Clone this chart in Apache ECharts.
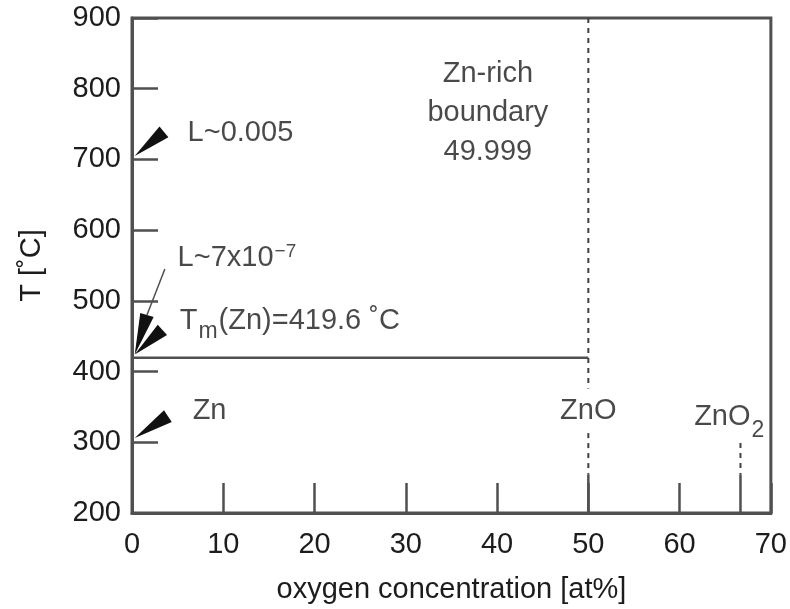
<!DOCTYPE html>
<html>
<head>
<meta charset="utf-8">
<title>Zn–O phase diagram</title>
<script src="https://cdn.jsdelivr.net/npm/echarts@6/dist/echarts.min.js"></script>
<style>
  html, body { margin: 0; padding: 0; background: #fff; }
  #chart { width: 790px; height: 609px; }
</style>
</head>
<body>
<div id="chart"></div>
<script>
// Axis ranges: oxygen concentration (at%) and temperature (°C)
const xMin = 0, xMax = 70, xStep = 10;
const tMin = 200, tMax = 900, tStep = 100;

// Melting isotherm of Zn, from pure Zn to the ZnO composition
const meltLine = [[0, 419.6], [50, 419.6]];

// ZnO line: dashed (broken around its label), solid near the axis
const znoDashTop = [[50, 900], [50, 376]];
const znoDashBottom = [[50, 313], [50, 254]];
const znoSolid = [[50, 200], [50, 254]];

// ZnO2 line
const zno2Dash = [[66.67, 299], [66.67, 254]];
const zno2Solid = [[66.67, 200], [66.67, 254]];

// Black wedge pointers: [tip x, tip T, tail x, tail T]
const wedges = [
  [0.3, 705, 3.5, 739],
  [0.3, 424, 1.64, 480],
  [0.3, 424, 3.33, 459],
  [0.3, 306, 3.93, 337]
];

// Leader from the L~7x10^-7 note to its wedge
const leader = [[3.6, 545], [1.64, 480]];

// Annotations: [x, T, text, alignment]
const notes = [
  [6.1, 737, '{a|L~0.005}', 'left'],
  [5.0, 560, '{a|L~7x10}{sup|−7}', 'left'],
  [5.23, 472, '{a|T}{sub|m}{a|(Zn)=419.6 ˚C}', 'left'],
  [6.65, 344, '{a|Zn}', 'left'],
  [39, 766, '{c|Zn-rich\nboundary\n49.999}', 'center'],
  [50, 344, '{a|ZnO}', 'center'],
  [61.6, 335, '{a|ZnO}{sub2|2}', 'left']
];

const FONT = "'Liberation Sans', Arial, Helvetica, sans-serif";
const TEXT = '#1c1c1c';
const LINE = '#505050';

const richStyles = {
  a:    { fontSize: 29, fontFamily: FONT, color: TEXT, lineHeight: 34 },
  c:    { fontSize: 29, fontFamily: FONT, color: TEXT, lineHeight: 39, align: 'center' },
  sup:  { fontSize: 19, fontFamily: FONT, color: TEXT, lineHeight: 19, verticalAlign: 'top', padding: [1, 0, 0, 1] },
  sub:  { fontSize: 23, fontFamily: FONT, color: TEXT, lineHeight: 23, verticalAlign: 'bottom', padding: [0, 1, -6, 1] },
  sub2: { fontSize: 23, fontFamily: FONT, color: TEXT, lineHeight: 23, verticalAlign: 'bottom', padding: [0, 0, -8, 1] }
};

function lineSeries(data, type, width) {
  return {
    type: 'line',
    data: data,
    showSymbol: false,
    symbol: 'none',
    silent: true,
    z: 3,
    lineStyle: { color: type === 'solid' ? LINE : '#404040', width: width, type: type === 'solid' ? 'solid' : [5, 5] }
  };
}

const chart = echarts.init(document.getElementById('chart'), null, { renderer: 'canvas' });

chart.setOption({
  animation: false,
  backgroundColor: '#fff',
  grid: {
    left: 132, right: 16, top: 18, bottom: 94,
    show: true, borderColor: LINE, borderWidth: 3, backgroundColor: 'transparent'
  },
  xAxis: {
    type: 'value',
    min: xMin, max: xMax, interval: xStep,
    name: 'oxygen concentration [at%]',
    nameLocation: 'middle',
    nameGap: 62,
    nameTextStyle: { fontSize: 29, fontFamily: FONT, color: TEXT },
    axisLine: { show: true, lineStyle: { color: LINE, width: 3 } },
    axisTick: { show: true, inside: true, length: 30, lineStyle: { color: LINE, width: 2.5 } },
    axisLabel: { fontSize: 29, fontFamily: FONT, color: TEXT, margin: 17, showMinLabel: true, showMaxLabel: true },
    splitLine: { show: false }
  },
  yAxis: {
    type: 'value',
    min: tMin, max: tMax, interval: tStep,
    name: 'T [˚C]',
    nameLocation: 'middle',
    nameGap: 86,
    nameRotate: 90,
    nameTextStyle: { fontSize: 29, fontFamily: FONT, color: TEXT },
    axisLine: { show: true, lineStyle: { color: LINE, width: 3 } },
    axisTick: { show: true, inside: true, length: 26, lineStyle: { color: LINE, width: 2.5 } },
    axisLabel: { fontSize: 29, fontFamily: FONT, color: TEXT, margin: 11, showMinLabel: true, showMaxLabel: true },
    splitLine: { show: false }
  },
  series: [
    lineSeries(meltLine, 'solid', 2.5),
    lineSeries(znoDashTop, 'dashed', 2),
    lineSeries(znoDashBottom, 'dashed', 2),
    lineSeries(znoSolid, 'solid', 2.5),
    lineSeries(zno2Dash, 'dashed', 2),
    lineSeries(zno2Solid, 'solid', 2.5),
    lineSeries(leader, 'solid', 1.5),
    {
      type: 'custom',
      silent: true,
      clip: false,
      z: 4,
      data: wedges,
      encode: { x: [0, 2], y: [1, 3] },
      renderItem: function (params, api) {
        const tip = api.coord([api.value(0), api.value(1)]);
        const tail = api.coord([api.value(2), api.value(3)]);
        const dx = tail[0] - tip[0], dy = tail[1] - tip[1];
        const len = Math.hypot(dx, dy) || 1;
        const half = 7;
        const nx = -dy / len * half, ny = dx / len * half;
        return {
          type: 'polygon',
          shape: { points: [tip, [tail[0] + nx, tail[1] + ny], [tail[0] - nx, tail[1] - ny]] },
          style: { fill: '#111' }
        };
      }
    },
    {
      type: 'scatter',
      silent: true,
      z: 5,
      symbolSize: 0.1,
      itemStyle: { color: 'transparent' },
      data: notes.map(function (n) {
        return {
          value: [n[0], n[1]],
          label: {
            show: true,
            position: [0, 0],
            align: n[3],
            verticalAlign: 'middle',
            formatter: n[2],
            rich: richStyles
          }
        };
      })
    }
  ]
});
</script>
</body>
</html>
